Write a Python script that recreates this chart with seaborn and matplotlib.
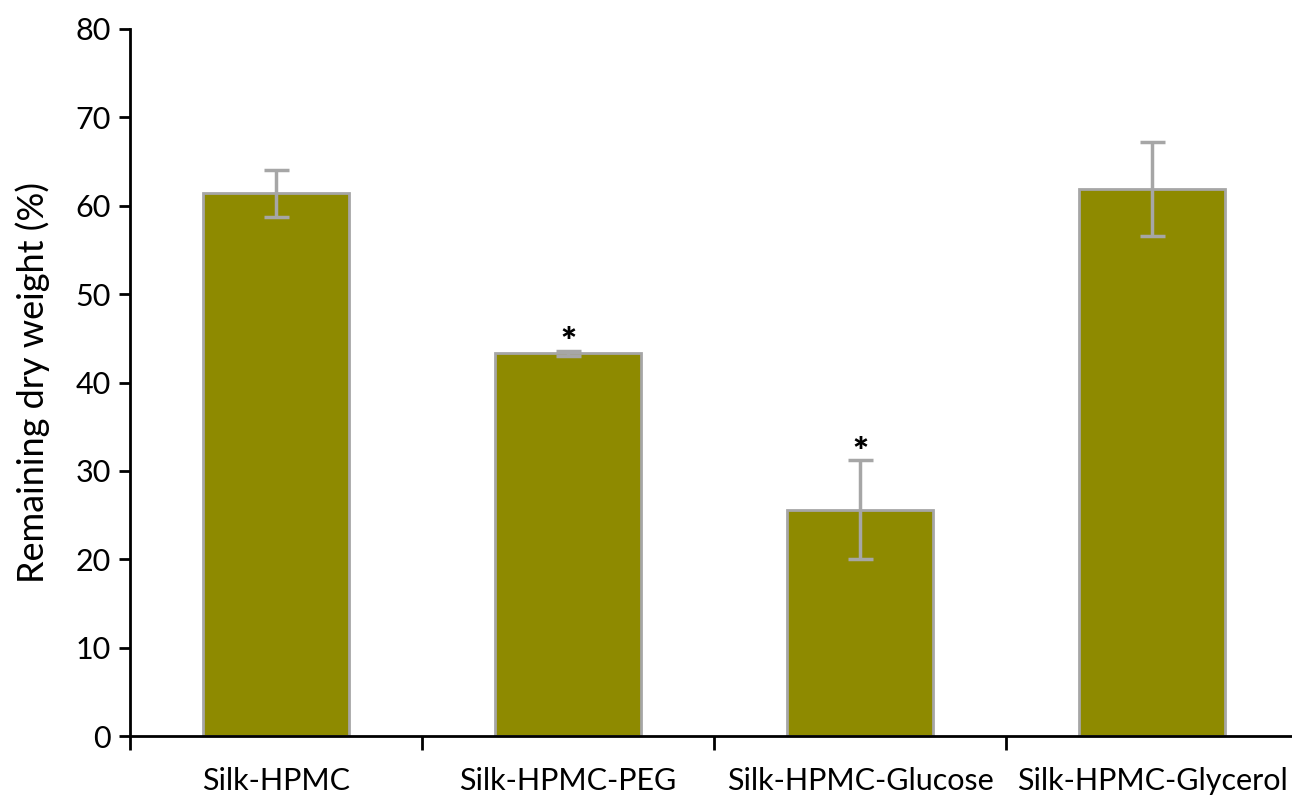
import numpy as np
import pandas as pd
import matplotlib.pyplot as plt
import seaborn as sns

# data
samples = ['Silk-HPMC', 'Silk-HPMC-PEG', 'Silk-HPMC-Glucose', 'Silk-HPMC-Glycerol']
remaining = [61.4, 43.3, 25.6, 61.9]
errors = [2.7, 0.3, 5.6, 5.3]
significant = [False, True, True, False]

df = pd.DataFrame({'Sample': samples, 'Remaining': remaining})

sns.set_style('white')
plt.rcParams['font.family'] = ['Lato', 'DejaVu Sans']

fig = plt.figure(figsize=(12.92, 7.96), dpi=100)
ax = fig.add_axes([130 / 1292, 1 - 736 / 796, 1168 / 1292, 707 / 796])

# olive bars with grey edges, like the excel original
sns.barplot(data=df, x='Sample', y='Remaining', color='#8E8A00', saturation=1,
            width=0.5, edgecolor='#A6A6A6', linewidth=2, ax=ax, zorder=2)

ax.errorbar(np.arange(len(samples)), remaining, yerr=errors, fmt='none',
            ecolor='#A6A6A6', elinewidth=2.5, capsize=9, capthick=2.5, zorder=3)

# stars above the significant ones
for i, sig in enumerate(significant):
    if sig:
        ax.text(i, remaining[i] + errors[i] - 0.4, '*', ha='center', va='baseline',
                fontsize=27, fontweight='heavy', color='black')

ax.set_xlim(-0.5, 3.5)
ax.set_ylim(0, 80)
ax.set_yticks(range(0, 81, 10))

# ticks between categories, labels in the middle
ax.set_xticks([-0.5, 0.5, 1.5, 2.5, 3.5])
ax.set_xticklabels([])
ax.set_xticks(range(len(samples)), minor=True)
ax.set_xticklabels(samples, minor=True)
ax.tick_params(axis='x', which='major', direction='out', length=10, width=2,
               color='black', bottom=True)
ax.tick_params(axis='x', which='minor', length=0, pad=22, labelsize=22,
               labelcolor='black')
ax.tick_params(axis='y', direction='out', length=8, width=2, color='black',
               left=True, labelsize=22, pad=6, labelcolor='black')

ax.set_xlabel('')
ax.set_ylabel('Remaining dry weight (%)', fontsize=26, labelpad=18, color='black')

for side in ['top', 'right']:
    ax.spines[side].set_visible(False)
for side in ['left', 'bottom']:
    ax.spines[side].set_color('black')
    ax.spines[side].set_linewidth(2)

fig.savefig('out.png', dpi=100, facecolor='white')
